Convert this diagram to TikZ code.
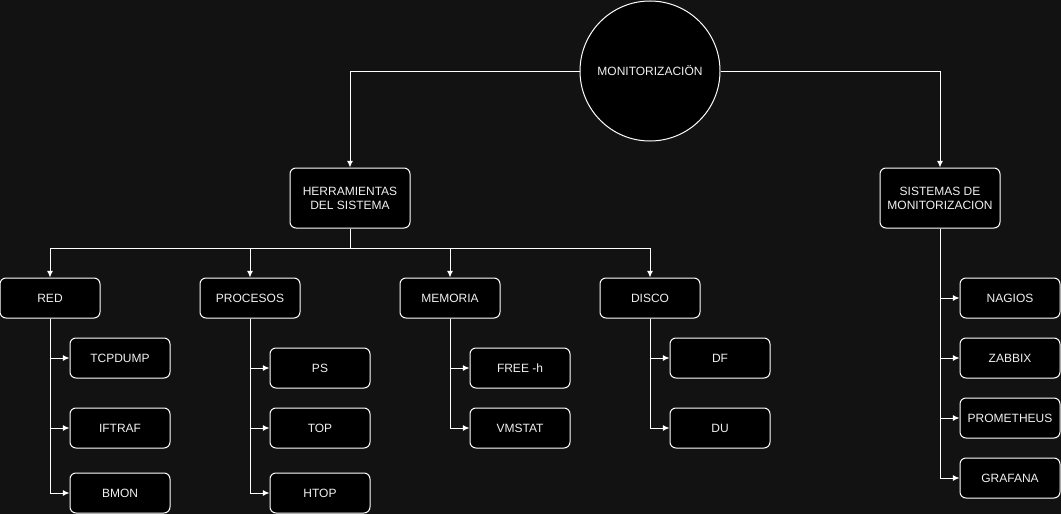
\documentclass[tikz,border=0pt]{standalone}
\usepackage{fontspec}
\setmainfont{Liberation Sans}
\usetikzlibrary{arrows.meta}

\definecolor{bgdark}{HTML}{121212}
\definecolor{txtlight}{HTML}{F0F0F0}

\tikzset{
    box/.style={draw=white, fill=black, rounded corners=4.5pt, line width=0.75pt,
        minimum width=75pt, minimum height=30pt, text=txtlight, align=center,
        font=\fontsize{9}{10.5}\selectfont, inner sep=0pt},
    bigbox/.style={box, minimum width=90pt, minimum height=45pt},
    arr/.style={draw=white, line width=0.75pt, -{Latex[length=5pt,width=4.5pt]}}
}

\begin{document}
\begin{tikzpicture}[x=0.75pt,y=-0.75pt]
    \fill[bgdark] (0,0) rectangle (1061,514);
    \useasboundingbox (0,0) rectangle (1061,514);

    % root
    \node[circle, draw=white, fill=black, line width=0.75pt, minimum size=105pt, inner sep=0pt,
        text=txtlight, font=\fontsize{9}{10.5}\selectfont] (mon) at (650,71) {MONITORIZACIÖN};

    % second level
    \node[bigbox] (herr) at (350,198) {HERRAMIENTAS\\DEL SISTEMA};
    \node[bigbox] (sis) at (940,198) {SISTEMAS DE\\MONITORIZACION};

    % third level
    \node[box] (red) at (50,298) {RED};
    \node[box] (proc) at (250,298) {PROCESOS};
    \node[box] (mem) at (450,298) {MEMORIA};
    \node[box] (disco) at (650,298) {DISCO};

    % leaves
    \node[box] (tcpdump) at (120,358) {TCPDUMP};
    \node[box] (iftraf) at (120,428) {IFTRAF};
    \node[box] (bmon) at (120,493) {BMON};

    \node[box] (ps) at (320,368) {PS};
    \node[box] (top) at (320,428) {TOP};
    \node[box] (htop) at (320,493) {HTOP};

    \node[box] (free) at (520,368) {FREE -h};
    \node[box] (vmstat) at (520,428) {VMSTAT};

    \node[box] (df) at (720,358) {DF};
    \node[box] (du) at (720,428) {DU};

    \node[box] (nagios) at (1010,298) {NAGIOS};
    \node[box] (zabbix) at (1010,358) {ZABBIX};
    \node[box] (prom) at (1010,418) {PROMETHEUS};
    \node[box] (grafana) at (1010,478) {GRAFANA};

    % connectors
    \draw[arr] (mon.west) -| (herr.north);
    \draw[arr] (mon.east) -| (sis.north);

    \coordinate (bus) at (350,248);
    \draw[draw=white, line width=0.75pt] (herr.south) -- (bus);
    \draw[arr] (bus) -| (red.north);
    \draw[arr] (bus) -| (proc.north);
    \draw[arr] (bus) -| (mem.north);
    \draw[arr] (bus) -| (disco.north);

    \draw[arr] (red.south) |- (tcpdump.west);
    \draw[arr] (red.south) |- (iftraf.west);
    \draw[arr] (red.south) |- (bmon.west);

    \draw[arr] (proc.south) |- (ps.west);
    \draw[arr] (proc.south) |- (top.west);
    \draw[arr] (proc.south) |- (htop.west);

    \draw[arr] (mem.south) |- (free.west);
    \draw[arr] (mem.south) |- (vmstat.west);

    \draw[arr] (disco.south) |- (df.west);
    \draw[arr] (disco.south) |- (du.west);

    \draw[arr] (sis.south) |- (nagios.west);
    \draw[arr] (sis.south) |- (zabbix.west);
    \draw[arr] (sis.south) |- (prom.west);
    \draw[arr] (sis.south) |- (grafana.west);
\end{tikzpicture}
\end{document}
